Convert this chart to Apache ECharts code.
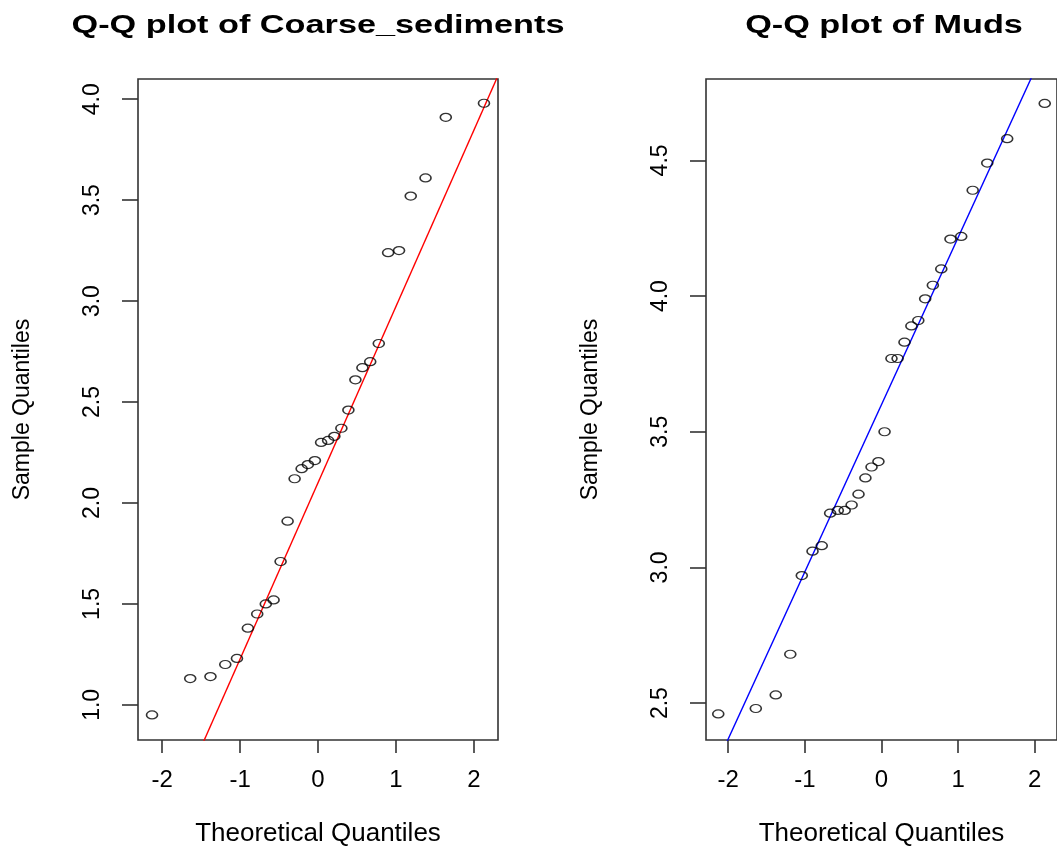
<!DOCTYPE html>
<html>
<head>
<meta charset="utf-8">
<title>Q-Q plots</title>
<script src="https://cdn.jsdelivr.net/npm/echarts@6/dist/echarts.min.js"></script>
<style>
  html, body { margin: 0; padding: 0; background: #fff; }
  #chart { width: 1057px; height: 852px; }
</style>
</head>
<body>
<div id="chart"></div>
<script>
var theoQ = [-2.13, -1.64, -1.38, -1.19, -1.04, -0.90, -0.78, -0.67, -0.57, -0.48,
             -0.39, -0.30, -0.21, -0.13, -0.04, 0.04, 0.13, 0.21, 0.30, 0.39,
             0.48, 0.57, 0.67, 0.78, 0.90, 1.04, 1.19, 1.38, 1.64, 2.13];

// sample quantiles (sorted)
var coarseSample = [0.95, 1.13, 1.14, 1.20, 1.23, 1.38, 1.45, 1.50, 1.52, 1.71,
                    1.91, 2.12, 2.17, 2.19, 2.21, 2.30, 2.31, 2.33, 2.37, 2.46,
                    2.61, 2.67, 2.70, 2.79, 3.24, 3.25, 3.52, 3.61, 3.91, 3.98];
var mudsSample = [2.46, 2.48, 2.53, 2.68, 2.97, 3.06, 3.08, 3.20, 3.21, 3.21,
                  3.23, 3.27, 3.33, 3.37, 3.39, 3.50, 3.77, 3.77, 3.83, 3.89,
                  3.91, 3.99, 4.04, 4.10, 4.21, 4.22, 4.39, 4.49, 4.58, 4.71];

// qqline [intercept, slope]
var coarseLine = [2.10, 0.873];
var mudsLine = [3.60, 0.616];

// tick labels
var xTicks = [-2, -1, 0, 1, 2];
var coarseTicks = [1.0, 1.5, 2.0, 2.5, 3.0, 3.5, 4.0];
var mudsTicks = [2.5, 3.0, 3.5, 4.0, 4.5];

var FONT = '"Liberation Sans", Arial, sans-serif';
var ELLIPSE = 'path://M0,50A50,50 0 1,1 100,50A50,50 0 1,1 0,50Z';
var tickStyle = { color: '#333', width: 1.6 };

function xAxisFor(idx, range) {
  return {
    gridIndex: idx, type: 'value', min: -range, max: range,
    name: 'Theoretical Quantiles', nameLocation: 'middle', nameGap: 81,
    nameTextStyle: { fontSize: 26, color: '#000', fontFamily: FONT },
    axisLine: { show: false, onZero: false },
    splitLine: { show: false },
    axisTick: { show: true, length: 13, customValues: xTicks, lineStyle: tickStyle },
    axisLabel: { fontSize: 24, color: '#000', fontFamily: FONT, margin: 28, customValues: xTicks }
  };
}

function yAxisFor(idx, min, max, ticks) {
  return {
    gridIndex: idx, type: 'value', min: min, max: max,
    name: 'Sample Quantiles', nameLocation: 'middle', nameGap: 104,
    nameTextStyle: { fontSize: 23, color: '#000', fontFamily: FONT },
    axisLine: { show: false, onZero: false },
    splitLine: { show: false },
    axisTick: { show: true, length: 16, customValues: ticks, lineStyle: tickStyle },
    axisLabel: {
      rotate: 90, fontSize: 23, color: '#000', fontFamily: FONT, margin: 34,
      customValues: ticks,
      formatter: function (v) { return v.toFixed(1); }
    }
  };
}

function points(sample, idx) {
  return {
    type: 'scatter', xAxisIndex: idx, yAxisIndex: idx,
    data: theoQ.map(function (q, i) { return [q, sample[i]]; }),
    symbol: ELLIPSE, symbolSize: [11, 8],
    itemStyle: { color: 'rgba(0,0,0,0)', borderColor: '#000', borderWidth: 1.4 },
    silent: true, z: 3
  };
}

function qqline(line, range, idx, color) {
  return {
    type: 'line', xAxisIndex: idx, yAxisIndex: idx,
    data: [[-range, line[0] - line[1] * range], [range, line[0] + line[1] * range]],
    symbol: 'none', clip: true, silent: true,
    lineStyle: { color: color, width: 1.4 }, z: 2
  };
}

var chart = echarts.init(document.getElementById('chart'));
chart.setOption({
  animation: false,
  backgroundColor: '#fff',
  graphic: [
    { type: 'text', x: 318, y: 26, scaleX: 1.37,
      style: { text: 'Q-Q plot of Coarse_sediments', align: 'center', verticalAlign: 'middle',
               fontSize: 25, fontWeight: 'bold', fontFamily: FONT, fill: '#000' } },
    { type: 'text', x: 884, y: 26, scaleX: 1.37,
      style: { text: 'Q-Q plot of Muds', align: 'center', verticalAlign: 'middle',
               fontSize: 25, fontWeight: 'bold', fontFamily: FONT, fill: '#000' } }
  ],
  grid: [
    { left: 138, top: 79, width: 360, height: 663, show: true, borderColor: '#333', borderWidth: 1.6 },
    { left: 706, top: 79, width: 357, height: 663, show: true, borderColor: '#333', borderWidth: 1.6 }
  ],
  xAxis: [xAxisFor(0, 2.31), xAxisFor(1, 2.29)],
  yAxis: [yAxisFor(0, 0.826, 4.10, coarseTicks), yAxisFor(1, 2.364, 4.80, mudsTicks)],
  series: [
    qqline(coarseLine, 2.31, 0, '#ff0000'),
    points(coarseSample, 0),
    qqline(mudsLine, 2.29, 1, '#0000ff'),
    points(mudsSample, 1)
  ]
});
</script>
</body>
</html>
